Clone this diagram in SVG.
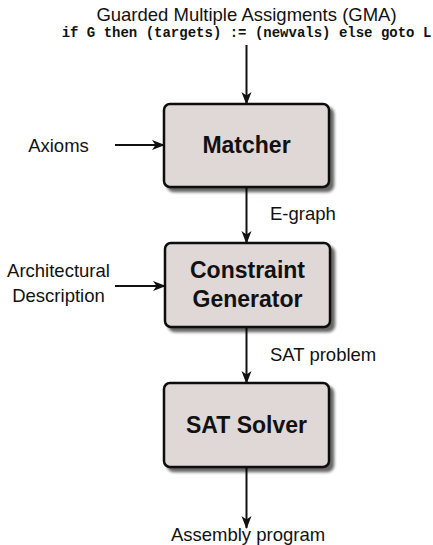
<svg xmlns="http://www.w3.org/2000/svg" width="433" height="545" viewBox="0 0 433 545">
<style>
.lbl{font-family:"Liberation Sans",Arial,sans-serif;font-size:18.5px;fill:#111}
.mono{font-family:"Liberation Mono","Courier New",monospace;font-size:14px;font-weight:bold;fill:#111}
.nt{font-family:"Liberation Sans",Arial,sans-serif;font-size:23px;font-weight:bold;fill:#111;text-anchor:middle}
.box{fill:#e0d7d7;stroke:#111;stroke-width:2.5}
.edge{stroke:#111;stroke-width:2;fill:none;marker-end:url(#ah)}
</style>
<defs>
<marker id="ah" markerUnits="userSpaceOnUse" markerWidth="13" markerHeight="11" refX="12" refY="5.5" orient="auto">
<path d="M0,0.5 L13,5.5 L0,10.5 L3.5,5.5 z" fill="#111"/>
</marker>
<filter id="sh" x="-10%" y="-10%" width="130%" height="130%">
<feGaussianBlur in="SourceAlpha" stdDeviation="1.8"/>
<feOffset dx="3.5" dy="3.5" result="b"/>
<feComponentTransfer><feFuncA type="linear" slope="0.6"/></feComponentTransfer>
<feMerge><feMergeNode/><feMergeNode in="SourceGraphic"/></feMerge>
</filter>
</defs>
<text class="lbl" x="246.5" y="21" text-anchor="middle">Guarded Multiple Assigments (GMA)</text>
<text class="mono" x="246.5" y="37" text-anchor="middle">if G then (targets) := (newvals) else goto L</text>
<g id="connectors">
<line class="edge" x1="246.5" y1="45" x2="246.5" y2="104"/>
<line class="edge" x1="115" y1="145" x2="164" y2="145"/>
<line class="edge" x1="246.5" y1="187" x2="246.5" y2="243"/>
<line class="edge" x1="115" y1="286" x2="165" y2="286"/>
<line class="edge" x1="246.5" y1="327" x2="246.5" y2="383"/>
<line class="edge" x1="246.5" y1="467" x2="246.5" y2="528"/>
</g>
<g id="matcher">
<rect class="box" x="164" y="104" width="165" height="83" rx="6" filter="url(#sh)"/>
<text class="nt" x="246.5" y="153">Matcher</text>
</g>
<g id="constraint-generator">
<rect class="box" x="165" y="243" width="165" height="84" rx="6" filter="url(#sh)"/>
<text class="nt" x="247.5" y="278">Constraint</text>
<text class="nt" x="247.5" y="307">Generator</text>
</g>
<g id="sat-solver">
<rect class="box" x="164" y="383" width="165" height="84" rx="6" filter="url(#sh)"/>
<text class="nt" x="246.5" y="433">SAT Solver</text>
</g>
<g id="labels">
<text class="lbl" x="58.5" y="152" text-anchor="middle">Axioms</text>
<text class="lbl" x="58.5" y="277" text-anchor="middle">Architectural</text>
<text class="lbl" x="58.5" y="302" text-anchor="middle">Description</text>
<text class="lbl" x="270" y="220">E-graph</text>
<text class="lbl" x="270" y="361">SAT problem</text>
<text class="lbl" x="248" y="541" text-anchor="middle">Assembly program</text>
</g>
</svg>
